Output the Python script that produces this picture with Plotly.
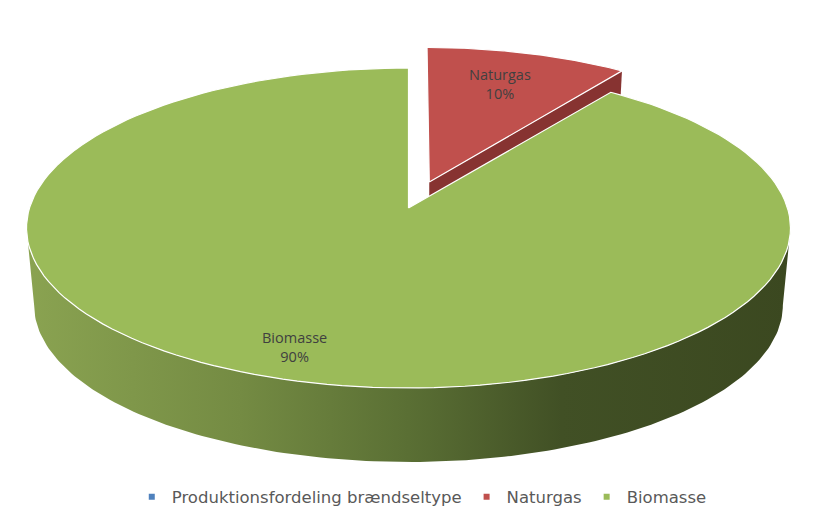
import numpy as np
import plotly.graph_objects as go

# Data
categories = ["Produktionsfordeling brændseltype", "Naturgas", "Biomasse"]
shares = [0, 10, 90]
colors = ["#4F81BD", "#C0504D", "#9BBB59"]

# View of the tilted disc (canvas pixels)
CX, CY, A, B, K = 408.5, 208.0, 379.0, 157.5, 0.125
DROP, BOTTOM_SCALE = 77.6, 0.98
EXPLODE_U, EXPLODE_V, SLICE_WIDTH = 0.056, 0.168, 0.98


def project(u, v, base=False):
    w = 1 + K * v
    s = BOTTOM_SCALE if base else 1.0
    return CX + s * A * u / w, CY + (DROP if base else 0) - s * B * v / w


def arc(start, stop, off=(0, 0), base=False, n=160, width=1.0):
    t = np.radians(np.linspace(start, stop, n))
    return project(width * np.sin(t) + off[0], np.cos(t) + off[1], base)


start = shares[0] * 3.6
split = start + shares[1] * 3.6
off = (EXPLODE_U, EXPLODE_V)

fig = go.Figure()

# Exploded slice: cut wall (green top later hides the lower part)
ax, ay = project(off[0], off[1])
bx, by = project(off[0], off[1], True)
rx, ry = arc(start, split, off, width=SLICE_WIDTH)
cx2, cy2 = project(SLICE_WIDTH * np.sin(np.radians(split)) + off[0], np.cos(np.radians(split)) + off[1], True)
fig.add_trace(go.Scatter(x=[ax, rx[-1], cx2, bx, ax], y=[ay, ry[-1], cy2, by, ay], mode="lines",
                         fill="toself", fillcolor="#873331", line=dict(width=0), hoverinfo="skip", showlegend=False))
# Exploded slice: top
fig.add_trace(go.Scatter(x=np.r_[ax, rx, ax], y=np.r_[ay, ry, ay], mode="lines", fill="toself",
                         fillcolor=colors[1], line=dict(color="white", width=1.2), hoverinfo="skip", showlegend=False))

# Large slice: side wall, from silhouette to silhouette along the front
left_limit = 180 + np.degrees(np.arccos(K))
right_limit = 180 - np.degrees(np.arccos(K))
tx, ty = arc(right_limit, left_limit)
lx, ly = arc(left_limit, right_limit, base=True)
fig.add_trace(go.Scatter(x=np.r_[tx, lx, tx[0]], y=np.r_[ty, ly, ty[0]], mode="lines", fill="toself",
                         line=dict(width=0), hoverinfo="skip", showlegend=False,
                         fillgradient=dict(type="horizontal", start=26, stop=791,
                                           colorscale=[[0, "#8AA351"], [0.28, "#748B43"], [0.5, "#5A6F34"],
                                                       [0.7, "#415025"], [1, "#3B4820"]])))
# Large slice: top
gx, gy = arc(split, 360)
fig.add_trace(go.Scatter(x=np.r_[CX, gx, CX], y=np.r_[CY, gy, CY], mode="lines", fill="toself",
                         fillcolor=colors[2], line=dict(color="white", width=1.2), hoverinfo="skip", showlegend=False))

# Legend entries
for name, color in zip(categories, colors):
    fig.add_trace(go.Scatter(x=[None], y=[None], mode="markers", name=name,
                             marker=dict(symbol="square", size=6, color=color)))

# Data labels
label_font = dict(family="Open Sans", size=14.5, color="#404040")
for i, (px, py) in {1: (499.5, 83.5), 2: (294, 347)}.items():
    fig.add_annotation(x=px, y=py, text=f"{categories[i]}<br>{shares[i]}%", showarrow=False, font=label_font)

fig.update_layout(
    width=821, height=529, autosize=False,
    margin=dict(l=0, r=0, t=0, b=0),
    paper_bgcolor="white", plot_bgcolor="white",
    xaxis=dict(range=[0, 821], visible=False, fixedrange=True),
    yaxis=dict(range=[529, 0], visible=False, fixedrange=True),
    legend=dict(orientation="h", x=0.1605, xanchor="left", y=0.0605, yanchor="middle",
                font=dict(family="DejaVu Sans", size=16.5, color="#595959"), itemwidth=30,
                bgcolor="rgba(0,0,0,0)"),
)
fig.write_html("out.html", config=dict(displayModeBar=False),
               post_script="document.body.style.margin='0';document.documentElement.style.overflow='hidden';")
